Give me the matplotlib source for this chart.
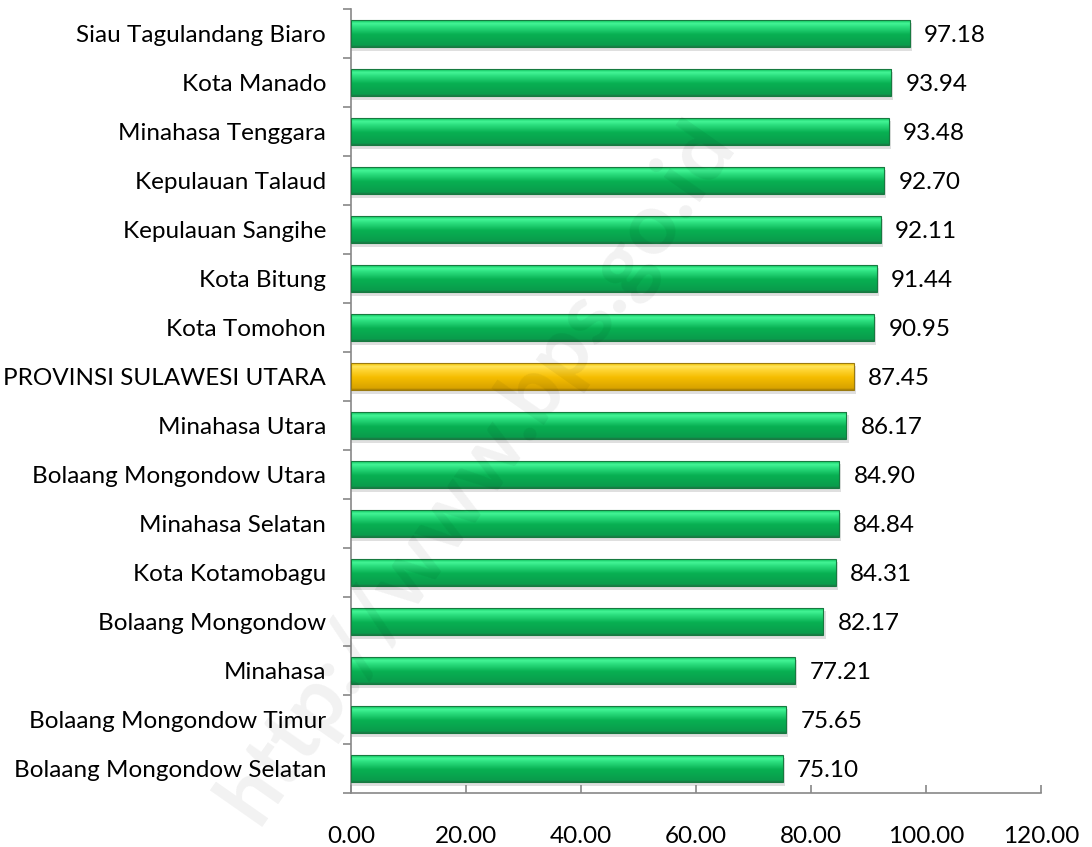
import numpy as np
import matplotlib
matplotlib.use("Agg")
import matplotlib.pyplot as plt
from matplotlib.colors import LinearSegmentedColormap

categories = ["Siau Tagulandang Biaro", "Kota Manado", "Minahasa Tenggara",
              "Kepulauan Talaud", "Kepulauan Sangihe", "Kota Bitung",
              "Kota Tomohon", "PROVINSI SULAWESI UTARA", "Minahasa Utara",
              "Bolaang Mongondow Utara", "Minahasa Selatan", "Kota Kotamobagu",
              "Bolaang Mongondow", "Minahasa", "Bolaang Mongondow Timur",
              "Bolaang Mongondow Selatan"]
values = [97.18, 93.94, 93.48, 92.70, 92.11, 91.44, 90.95, 87.45, 86.17,
          84.90, 84.84, 84.31, 82.17, 77.21, 75.65, 75.10]
highlight = "PROVINSI SULAWESI UTARA"
xticks = [0, 20, 40, 60, 80, 100, 120]

plt.rcParams['font.family'] = ['Lato', 'DejaVu Sans']

fig = plt.figure(figsize=(10.92, 8.47), dpi=100)
ax = fig.add_axes([351/1092, 1 - 793/847, (1041-351)/1092, (793-9)/847])

n = len(categories)
y = np.arange(n)[::-1]
h = 0.57
FS = 17.5

green_cmap = LinearSegmentedColormap.from_list("g", [
    (0.0, "#1a7a45"), (0.06, "#0a9c4c"), (0.45, "#08b052"),
    (0.75, "#2fe383"), (0.85, "#44f596"), (0.93, "#1fd46f"), (1.0, "#0f8a4a")])
gold_cmap = LinearSegmentedColormap.from_list("y", [
    (0.0, "#a77e05"), (0.06, "#d8a300"), (0.45, "#f5bd00"),
    (0.75, "#ffd83a"), (0.85, "#ffe55c"), (0.93, "#f7cb19"), (1.0, "#c89a09")])
grad = np.linspace(0, 1, 64).reshape(-1, 1)

for cat, v, yy in zip(categories, values, y):
    ax.barh(yy - 0.07, v + 0.4, height=h, left=0, color="#b8b8b8", alpha=0.45,
            zorder=1, linewidth=0)
    cmap = gold_cmap if cat == highlight else green_cmap
    bar = ax.barh(yy, v, height=h, color="none", zorder=2, linewidth=0)[0]
    im = ax.imshow(grad, cmap=cmap, aspect="auto", origin="lower",
                   extent=[0, v, yy - h/2, yy + h/2], zorder=2)
    im.set_clip_path(bar)
    edge = "#9a7a10" if cat == highlight else "#177a40"
    ax.barh(yy, v, height=h, color="none", edgecolor=edge, linewidth=0.8, zorder=3)
    ax.text(v + 2.5, yy - 0.05, f"{v:.2f}", va="center", ha="left",
            fontsize=FS, color="black", zorder=4)

ax.set_xlim(0, 120)
ax.set_ylim(-0.5, n - 0.5)
ax.set_xticks(xticks)
ax.set_xticklabels([f"{t:.2f}" for t in xticks], fontsize=FS)
ax.set_yticks(y)
ax.set_yticklabels(categories, fontsize=FS)
ax.set_yticks(np.arange(-0.5, n, 1), minor=True)
ax.tick_params(axis="y", which="major", length=0, pad=18)
ax.tick_params(axis="y", which="minor", length=6, color="#888888", width=1.2)
ax.tick_params(axis="x", which="major", length=6, color="#888888", width=1.2,
               direction="in", pad=24)
for s in ["top", "right"]:
    ax.spines[s].set_visible(False)
for s in ["left", "bottom"]:
    ax.spines[s].set_color("#888888")
    ax.spines[s].set_linewidth(1.2)
ax.set_facecolor("none")

fig.text(0.437, 0.443, "http://www.bps.go.id", rotation=55, fontsize=62,
         fontweight="bold", color="black", alpha=0.055, ha="center", va="center",
         zorder=10)

fig.savefig("out.png", dpi=100)
